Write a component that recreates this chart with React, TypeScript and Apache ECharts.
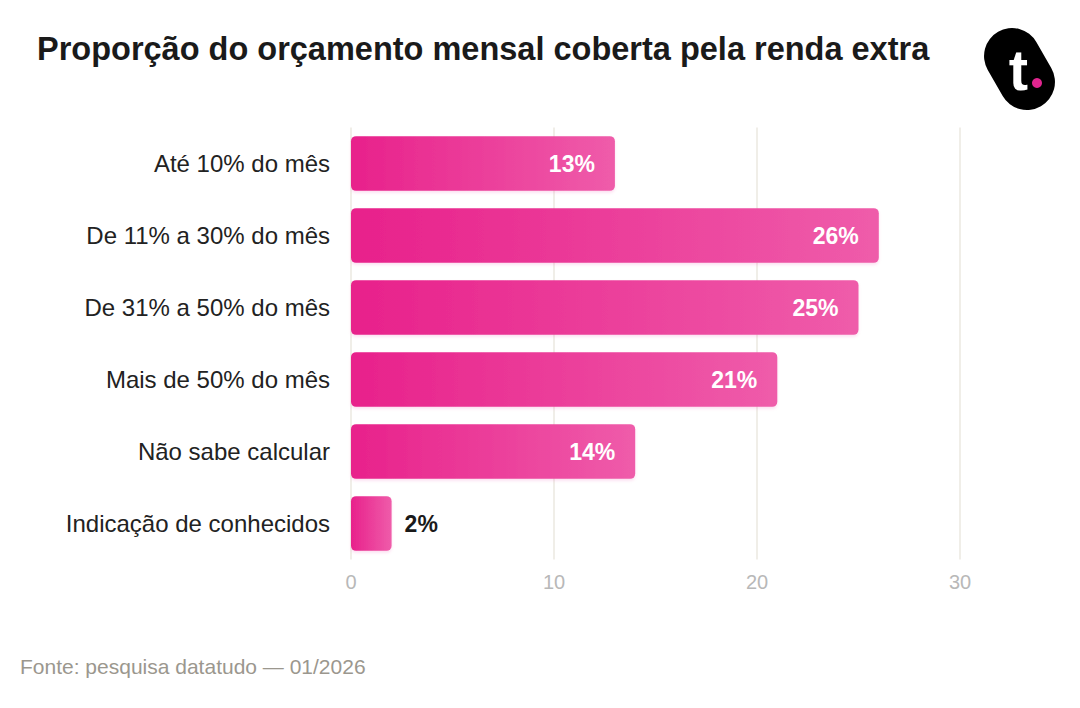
import { useEffect, useRef } from 'react'
import * as echarts from 'echarts'

const categories = [
  'Até 10% do mês',
  'De 11% a 30% do mês',
  'De 31% a 50% do mês',
  'Mais de 50% do mês',
  'Não sabe calcular',
  'Indicação de conhecidos',
]
const shares = [13, 26, 25, 21, 14, 2]
const xTicks = [0, 10, 20, 30]

const FONT = '"Liberation Sans", Arial, Helvetica, sans-serif'
const PINK_DARK = '#e8218b'
const PINK_LIGHT = '#ef5caa'

export default function App() {
  const containerRef = useRef<HTMLDivElement | null>(null)

  useEffect(() => {
    if (!containerRef.current) return
    const chart = echarts.init(containerRef.current, undefined, { renderer: 'svg' })

    const barGradient = new echarts.graphic.LinearGradient(0, 0, 1, 0, [
      { offset: 0, color: PINK_DARK },
      { offset: 1, color: PINK_LIGHT },
    ])

    chart.setOption({
      animation: false,
      backgroundColor: '#ffffff',
      textStyle: { fontFamily: FONT },
      title: {
        text: 'Proporção do orçamento mensal coberta pela renda extra',
        left: 32,
        top: 27,
        textStyle: { fontSize: 32.5, fontWeight: 'bold', color: '#1a1a1a', fontFamily: FONT },
      },
      grid: { left: 351, right: 120, top: 127.5, bottom: 148.5, containLabel: false },
      xAxis: {
        type: 'value',
        min: xTicks[0],
        max: xTicks[xTicks.length - 1],
        interval: 10,
        axisLine: { show: false },
        axisTick: { show: false },
        splitLine: { lineStyle: { color: '#ebe8e1', width: 1.5 } },
        axisLabel: { color: '#b8b8b8', fontSize: 20, margin: 12, fontFamily: FONT },
      },
      yAxis: {
        type: 'category',
        inverse: true,
        data: categories,
        axisLine: { show: false },
        axisTick: { show: false },
        axisLabel: { color: '#222222', fontSize: 24, margin: 21, fontFamily: FONT },
      },
      series: [
        {
          type: 'bar',
          barCategoryGap: '24%',
          data: shares.map((v) => ({
            value: v,
            label:
              v < 5
                ? { position: 'right', distance: 13, color: '#1a1a1a' }
                : { position: 'insideRight', distance: 20, color: '#ffffff' },
          })),
          itemStyle: {
            color: barGradient,
            borderRadius: 5,
            shadowColor: 'rgba(233, 33, 139, 0.12)',
            shadowBlur: 3,
            shadowOffsetY: 2,
          },
          label: {
            show: true,
            formatter: '{c}%',
            fontSize: 23,
            fontWeight: 'bold',
            fontFamily: FONT,
          },
        },
      ],
      graphic: [
        {
          type: 'text',
          left: 20,
          top: 656,
          style: {
            text: 'Fonte: pesquisa datatudo — 01/2026',
            fill: '#9b978e',
            fontSize: 21,
            fontFamily: FONT,
          },
        },
        {
          type: 'group',
          x: 1019.5,
          y: 69,
          children: [
            {
              type: 'rect',
              rotation: -1.05,
              shape: { x: -43, y: -28, width: 86, height: 56, r: 28 },
              style: { fill: '#000000' },
            },
            {
              type: 'text',
              x: -1,
              y: 0,
              style: {
                text: 't',
                fill: '#ffffff',
                fontSize: 58,
                fontWeight: 'bold',
                fontFamily: FONT,
                align: 'center',
                verticalAlign: 'middle',
              },
            },
            {
              type: 'circle',
              shape: { cx: 17.5, cy: 14, r: 5 },
              style: { fill: '#e0258f' },
            },
          ],
        },
      ],
    })

    return () => {
      chart.dispose()
    }
  }, [])

  return (
    <div
      ref={containerRef}
      style={{ position: 'absolute', left: 0, top: 0, width: 1080, height: 708 }}
    />
  )
}
